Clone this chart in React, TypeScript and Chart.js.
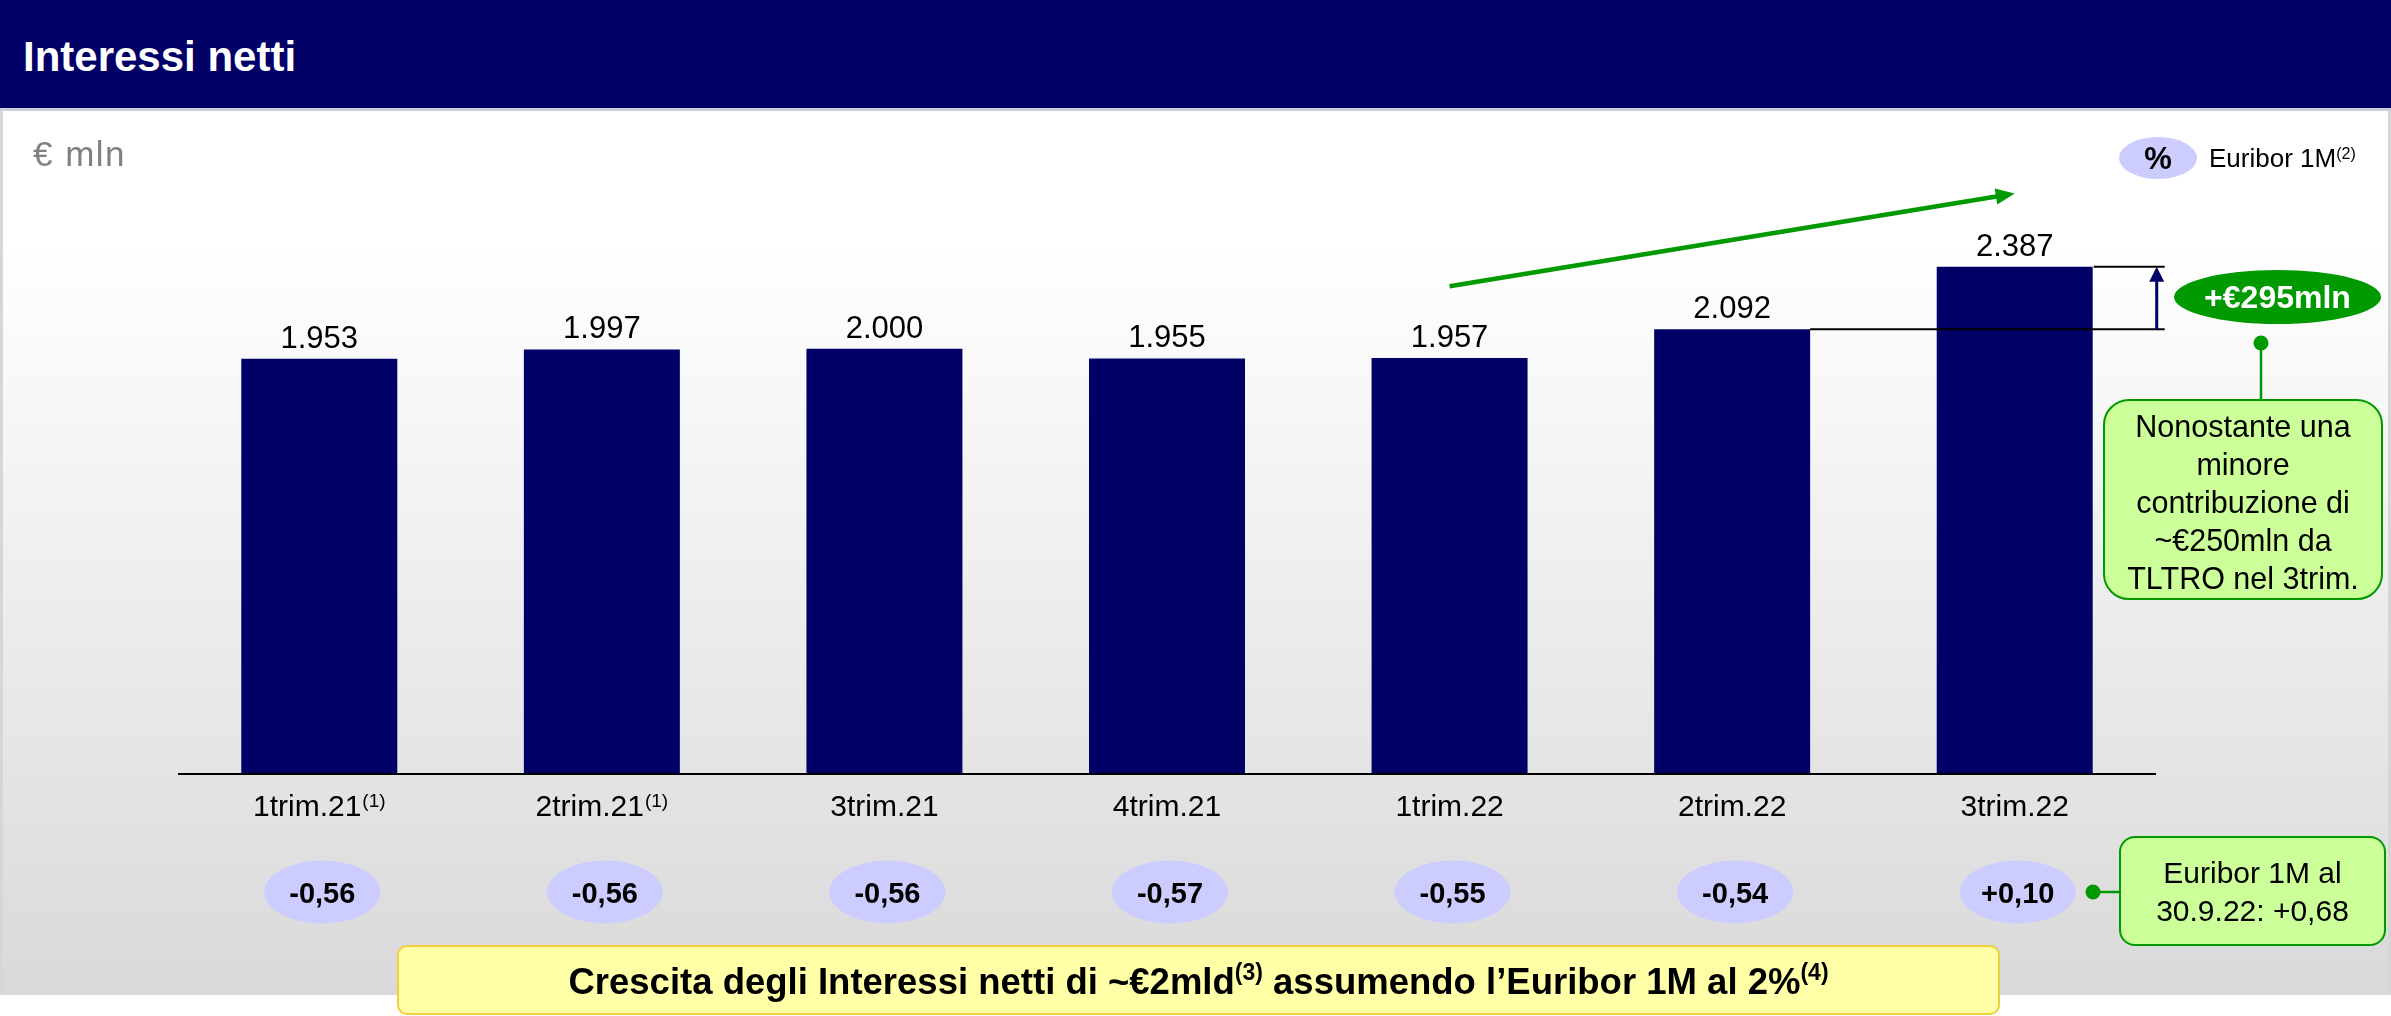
import React, { useEffect, useRef } from 'react';
import { Chart, registerables } from 'chart.js';

Chart.register(...registerables);

// ---------- data ----------
const categories = ['1trim.21', '2trim.21', '3trim.21', '4trim.21', '1trim.22', '2trim.22', '3trim.22'];
const categoryNotes = ['(1)', '(1)', '', '', '', '', ''];
const netInterest = [1953, 1997, 2000, 1955, 1957, 2092, 2387];
const euribor1M = [-0.56, -0.56, -0.56, -0.57, -0.55, -0.54, 0.1];
const yAxisMax = 2900;
const trendFrom = { index: 4, value: 2295 };
const trendTo = { index: 6, value: 2733 };

// ---------- style ----------
const W = 2391;
const H = 1016;
const FONT = '"Liberation Sans", Arial, Helvetica, sans-serif';
const NAVY = '#000066';
const GREEN = '#009900';
const LILAC = '#ccccff';
const LIGHTGREEN = '#ccff99';

function fmtThousands(v: number): string {
  return String(Math.round(v)).replace(/\B(?=(\d{3})+(?!\d))/g, '.');
}
function fmtRate(v: number): string {
  const s = Math.abs(v).toFixed(2).replace('.', ',');
  return (v > 0 ? '+' : v < 0 ? '-' : '') + s;
}

function line(ctx: CanvasRenderingContext2D, x1: number, y1: number, x2: number, y2: number) {
  ctx.beginPath();
  ctx.moveTo(x1, y1);
  ctx.lineTo(x2, y2);
  ctx.stroke();
}

const annotationPlugin = {
  id: 'annotationPlugin',
  afterDatasetsDraw(chart: any) {
    const { ctx, chartArea, scales } = chart;
    const xS = scales.x;
    const yS = scales.y;
    const meta = chart.getDatasetMeta(0);
    const base = yS.getPixelForValue(0);
    ctx.save();

    // baseline axis
    ctx.strokeStyle = '#000';
    ctx.lineWidth = 2;
    line(ctx, chartArea.left, base + 1, chartArea.right, base + 1);

    // value labels
    ctx.fillStyle = '#000';
    ctx.font = `31px ${FONT}`;
    ctx.textAlign = 'center';
    ctx.textBaseline = 'alphabetic';
    meta.data.forEach((bar: any, i: number) => {
      ctx.fillText(fmtThousands(netInterest[i]), bar.x, bar.y - 11);
    });

    // category labels with superscript notes
    categories.forEach((c, i) => {
      const cx = xS.getPixelForValue(i);
      ctx.font = `30px ${FONT}`;
      const w1 = ctx.measureText(c).width;
      const note = categoryNotes[i];
      ctx.font = `19px ${FONT}`;
      const w2 = note ? ctx.measureText(note).width + 1 : 0;
      const x0 = cx - (w1 + w2) / 2;
      ctx.textAlign = 'left';
      ctx.fillStyle = '#000';
      ctx.font = `30px ${FONT}`;
      ctx.fillText(c, x0, 816);
      if (note) {
        ctx.font = `19px ${FONT}`;
        ctx.fillText(note, x0 + w1 + 1, 807);
      }
    });

    // Euribor ellipses
    euribor1M.forEach((v, i) => {
      const cx = xS.getPixelForValue(i) + 3;
      const cy = 892;
      ctx.fillStyle = LILAC;
      ctx.beginPath();
      ctx.ellipse(cx, cy, 58, 31.5, 0, 0, Math.PI * 2);
      ctx.fill();
      ctx.fillStyle = '#000';
      ctx.font = `bold 29px ${FONT}`;
      ctx.textAlign = 'center';
      ctx.fillText(fmtRate(v), cx, cy + 10.5);
    });

    // bracket between last two bars
    const b6 = meta.data[5];
    const b7 = meta.data[6];
    const r7 = b7.x + b7.width / 2;
    const r6 = b6.x + b6.width / 2;
    const rightX = r7 + 72;
    ctx.strokeStyle = '#000';
    ctx.lineWidth = 2;
    line(ctx, r7 + 1, b7.y, rightX, b7.y);
    line(ctx, r6, b6.y, rightX, b6.y);
    const ax = rightX - 8;
    ctx.strokeStyle = NAVY;
    ctx.lineWidth = 3;
    line(ctx, ax, b6.y, ax, b7.y + 12);
    ctx.fillStyle = NAVY;
    ctx.beginPath();
    ctx.moveTo(ax, b7.y);
    ctx.lineTo(ax - 7.5, b7.y + 15);
    ctx.lineTo(ax + 7.5, b7.y + 15);
    ctx.closePath();
    ctx.fill();

    // green trend arrow
    const x1 = xS.getPixelForValue(trendFrom.index);
    const y1 = yS.getPixelForValue(trendFrom.value);
    const x2 = xS.getPixelForValue(trendTo.index);
    const y2 = yS.getPixelForValue(trendTo.value);
    const ang = Math.atan2(y2 - y1, x2 - x1);
    const headL = 19;
    const headW = 8;
    const bx = x2 - Math.cos(ang) * headL;
    const by = y2 - Math.sin(ang) * headL;
    ctx.strokeStyle = GREEN;
    ctx.lineWidth = 4.5;
    line(ctx, x1, y1, bx + Math.cos(ang) * 2, by + Math.sin(ang) * 2);
    ctx.fillStyle = GREEN;
    ctx.beginPath();
    ctx.moveTo(x2, y2);
    ctx.lineTo(bx - Math.sin(ang) * headW, by + Math.cos(ang) * headW);
    ctx.lineTo(bx + Math.sin(ang) * headW, by - Math.cos(ang) * headW);
    ctx.closePath();
    ctx.fill();

    // connectors with dots
    ctx.strokeStyle = GREEN;
    ctx.fillStyle = GREEN;
    ctx.lineWidth = 2.5;
    line(ctx, 2261, 343, 2261, 400);
    ctx.beginPath();
    ctx.arc(2261, 343, 7.5, 0, Math.PI * 2);
    ctx.fill();
    line(ctx, 2093, 892, 2120, 892);
    ctx.beginPath();
    ctx.arc(2093, 892, 7.5, 0, Math.PI * 2);
    ctx.fill();

    ctx.restore();
  },
};

const abs = (s: React.CSSProperties): React.CSSProperties => ({ position: 'absolute', boxSizing: 'border-box', ...s });

export default function App() {
  const ref = useRef<HTMLCanvasElement>(null);

  useEffect(() => {
    const canvas = ref.current;
    if (!canvas) return;
    const chart = new Chart(canvas, {
      type: 'bar',
      data: {
        labels: categories,
        datasets: [
          {
            data: netInterest,
            backgroundColor: NAVY,
            borderWidth: 0,
            barPercentage: 0.552,
            categoryPercentage: 1,
          },
        ],
      },
      options: {
        responsive: false,
        maintainAspectRatio: false,
        animation: false,
        devicePixelRatio: 1,
        events: [],
        layout: { padding: { left: 178, right: W - 2156, top: 158, bottom: H - 773 } },
        plugins: { legend: { display: false }, tooltip: { enabled: false } },
        scales: {
          x: { display: false },
          y: { display: false, min: 0, max: yAxisMax },
        },
      },
      plugins: [annotationPlugin],
    } as any);
    return () => chart.destroy();
  }, []);

  const sup = (t: string, size: number, rise: number) => (
    <span style={{ fontSize: size, position: 'relative', top: -rise }}>{t}</span>
  );

  return (
    <div style={{ position: 'fixed', left: 0, top: 0, width: W, height: H, background: '#fff', overflow: 'hidden', fontFamily: FONT }}>
      {/* header */}
      <div style={abs({ left: 0, top: 0, width: W, height: 111, background: NAVY, borderBottom: '3px solid #c8d0dc' })} />
      <div style={abs({ left: 23, top: 35.5, fontSize: 42, lineHeight: '42px', fontWeight: 'bold', color: '#fff', whiteSpace: 'nowrap' })}>
        Interessi netti
      </div>
      {/* panel */}
      <div
        style={abs({
          left: 0,
          top: 111,
          width: W,
          height: 884,
          background: 'linear-gradient(to bottom, #ffffff 0%, #ffffff 15%, #d9d9d9 100%)',
          borderLeft: '3px solid #d6d6d6',
          borderRight: '3px solid #d6d6d6',
        })}
      />
      <canvas ref={ref} width={W} height={H} style={{ position: 'absolute', left: 0, top: 0, width: W, height: H }} />

      {/* unit */}
      <div style={abs({ left: 33, top: 136.4, fontSize: 35, lineHeight: '35px', color: '#808080', letterSpacing: 1.5, whiteSpace: 'nowrap' })}>
        € mln
      </div>

      {/* legend */}
      <div
        style={abs({
          left: 2119,
          top: 137,
          width: 78,
          height: 42,
          borderRadius: '50%',
          background: LILAC,
          display: 'flex',
          alignItems: 'center',
          justifyContent: 'center',
          fontWeight: 'bold',
          fontSize: 31,
          lineHeight: '31px',
          color: '#000',
        })}
      >
        %
      </div>
      <div style={abs({ left: 2209, top: 145, fontSize: 26, lineHeight: '26px', color: '#000', whiteSpace: 'nowrap' })}>
        Euribor 1M{sup('(2)', 16, 8)}
      </div>

      {/* +295 ellipse */}
      <div
        style={abs({
          left: 2174,
          top: 270,
          width: 207,
          height: 54,
          borderRadius: '50%',
          background: GREEN,
          display: 'flex',
          alignItems: 'center',
          justifyContent: 'center',
          color: '#fff',
          fontWeight: 'bold',
          fontSize: 32,
          lineHeight: '32px',
          whiteSpace: 'nowrap',
        })}
      >
        +€295mln
      </div>

      {/* callout TLTRO */}
      <div style={abs({ left: 2103, top: 399, width: 280, height: 201, border: `2px solid ${GREEN}`, borderRadius: 26, background: LIGHTGREEN })} />
      <div style={abs({ left: 2103, top: 407.4, width: 280, textAlign: 'center', fontSize: 30.5, lineHeight: '38px', color: '#000', whiteSpace: 'nowrap' })}>
        Nonostante una
        <br />
        minore
        <br />
        contribuzione di
        <br />
        ~€250mln da
        <br />
        TLTRO nel 3trim.
      </div>

      {/* callout Euribor */}
      <div style={abs({ left: 2119, top: 836, width: 267, height: 110, border: `2px solid ${GREEN}`, borderRadius: 16, background: LIGHTGREEN })} />
      <div style={abs({ left: 2119, top: 853.6, width: 267, textAlign: 'center', fontSize: 30, lineHeight: '38.5px', color: '#000', whiteSpace: 'nowrap' })}>
        Euribor 1M al
        <br />
        30.9.22: +0,68
      </div>

      {/* yellow box */}
      <div style={abs({ left: 397, top: 945, width: 1603, height: 70, border: '2px solid #f0cf3c', borderRadius: 10, background: '#ffffa8' })} />
      <div style={abs({ left: 397, top: 964, width: 1603, textAlign: 'center', fontSize: 36.5, lineHeight: '36.5px', fontWeight: 'bold', color: '#000', whiteSpace: 'nowrap' })}>
        Crescita degli Interessi netti di ~€2mld{sup('(3)', 23, 14)} assumendo l’Euribor 1M al 2%{sup('(4)', 23, 14)}
      </div>
    </div>
  );
}
